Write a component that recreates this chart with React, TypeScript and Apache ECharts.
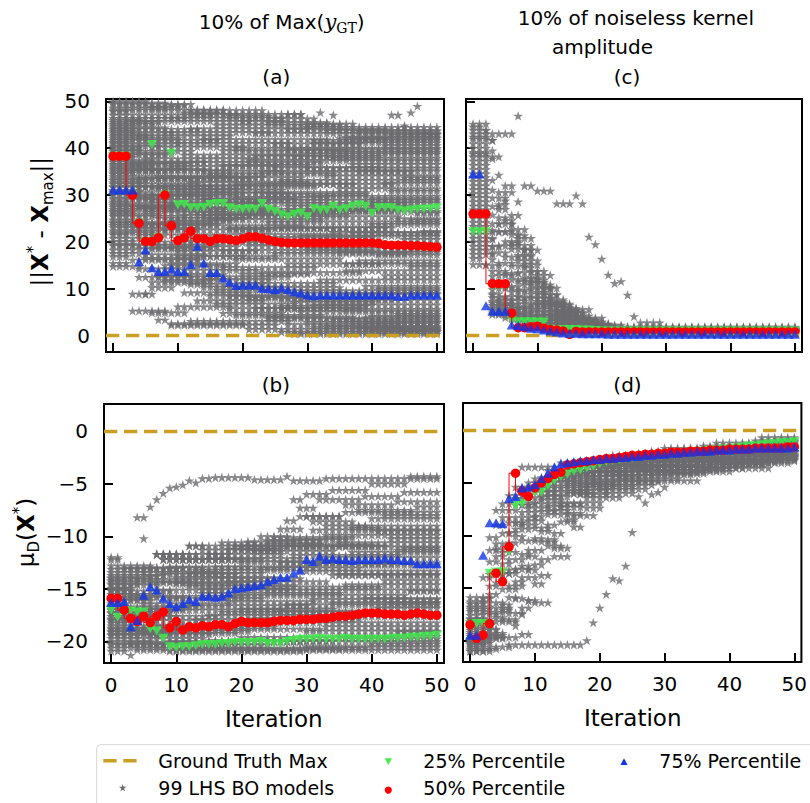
import React, { useEffect, useRef } from 'react';
import * as echarts from 'echarts';

// ---------- axes ----------
const ITERATIONS: number[] = Array.from({ length: 51 }, (_, i) => i);
const X_TICKS = [0, 10, 20, 30, 40, 50];
const Y_TICKS_DIST = [0, 10, 20, 30, 40, 50];
const Y_TICKS_MU = [-20, -15, -10, -5, 0];
const X_RANGE = [-1.1, 51.1];
const Y_RANGE_DIST = [-3.48, 50.5];
const Y_RANGE_MU = [-22.05, 2.58];
const GROUND_TRUTH_DIST = 0;
const GROUND_TRUTH_MU = 0;

// ---------- percentiles ----------
// (a) ||X* - Xmax||, 10% of Max(yGT)
const P25_A = [38.3, 38.3, 38.3, 30.0, 24.0, 20.1, 40.8, 20.9, 30.0, 38.9,
  27.9, 28.0, 27.3, 27.3, 27.4, 28.0, 28.2, 28.2, 27.3, 27.0,
  27.0, 27.1, 27.0, 28.2, 27.0, 26.5, 25.8, 25.4, 25.9, 26.2,
  25.4, 27.1, 26.8, 26.8, 27.6, 26.8, 27.1, 27.6, 27.9, 27.6,
  26.1, 27.3, 27.3, 27.3, 26.8, 26.6, 26.8, 27.0, 27.0, 27.1, 27.3];
const P50_A = [38.3, 38.3, 38.3, 30.0, 24.0, 20.1, 20.1, 20.9, 30.0, 23.5,
  20.3, 20.9, 22.3, 20.7, 20.7, 20.1, 20.7, 20.7, 20.5, 20.3,
  20.7, 21.1, 21.1, 20.8, 20.4, 20.1, 19.9, 19.8, 19.8, 19.8,
  19.8, 19.8, 19.8, 19.8, 19.8, 19.8, 19.8, 19.8, 19.8, 19.8,
  19.8, 19.7, 19.4, 19.3, 19.3, 19.3, 19.2, 19.2, 19.1, 19.0, 18.9];
const P75_A = [31.1, 31.1, 31.1, 31.1, 15.8, 18.3, 14.5, 13.7, 13.7, 14.3,
  13.7, 13.7, 15.2, 19.1, 15.5, 13.5, 13.5, 12.3, 11.4, 10.7,
  10.8, 10.8, 10.8, 10.1, 10.0, 9.8, 10.2, 9.8, 9.4, 9.1,
  8.7, 8.5, 8.7, 8.7, 8.7, 8.7, 8.7, 8.7, 8.7, 8.7,
  8.7, 8.7, 8.7, 8.7, 8.4, 8.4, 8.7, 8.7, 8.7, 8.7, 8.7];

// (b) muD(X*), 10% of Max(yGT)
const P25_B = [-17.0, -17.7, -17.1, -17.1, -17.2, -17.2, -18.8, -19.0, -19.7, -20.5,
  -20.6, -20.5, -20.5, -20.4, -20.3, -20.3, -20.3, -20.2, -20.2, -20.1,
  -20.1, -20.1, -20.1, -20.0, -20.2, -20.2, -20.2, -20.0, -19.9, -19.8,
  -19.8, -19.8, -19.7, -19.8, -19.8, -19.8, -19.7, -19.8, -19.8, -19.8,
  -19.8, -19.8, -19.8, -19.7, -19.7, -19.7, -19.6, -19.6, -19.5, -19.5, -19.4];
const P50_B = [-15.9, -15.9, -17.0, -17.8, -18.1, -17.6, -18.2, -17.6, -17.2, -18.7,
  -18.1, -18.9, -18.6, -18.7, -18.5, -18.6, -18.4, -18.4, -18.6, -18.3,
  -18.1, -18.2, -18.2, -18.2, -18.2, -18.1, -18.0, -18.0, -18.0, -17.9,
  -17.9, -17.9, -17.8, -17.8, -17.7, -17.6, -17.6, -17.5, -17.4, -17.3,
  -17.3, -17.3, -17.4, -17.4, -17.4, -17.5, -17.4, -17.3, -17.4, -17.5, -17.5];
const P75_B = [-16.3, -16.3, -16.2, -18.6, -18.0, -15.6, -14.8, -15.1, -15.9, -16.4,
  -16.7, -16.4, -16.0, -16.2, -15.7, -15.7, -15.8, -15.7, -15.4, -15.0,
  -14.9, -14.8, -14.7, -14.6, -14.3, -14.1, -13.9, -13.9, -13.5, -13.2,
  -12.2, -12.4, -11.9, -12.2, -12.1, -12.2, -12.2, -12.3, -12.2, -12.2,
  -12.2, -12.2, -12.1, -12.2, -12.2, -12.3, -12.3, -12.6, -12.6, -12.6, -12.6];

// (c) ||X* - Xmax||, 10% of noiseless kernel amplitude
const P25_C = [22.2, 22.2, 22.2, 10.6, 10.6, 10.6, 3.3, 3.0, 3.0, 3.0,
  2.9, 2.9, 1.4, 1.3, 1.3, 1.3, 1.3, 1.2, 1.2, 1.1,
  1.0, 1.0, 1.0, 1.0, 1.0, 1.0, 1.0, 1.0, 1.0, 1.0,
  1.0, 1.0, 1.0, 1.0, 1.0, 1.0, 1.0, 1.0, 1.0, 1.0,
  1.0, 1.0, 1.0, 1.0, 1.0, 1.0, 1.0, 1.0, 1.0, 1.0, 1.0];
const P50_C = [26.0, 26.0, 26.0, 11.1, 11.1, 11.1, 4.8, 1.7, 1.7, 1.9,
  2.0, 1.6, 1.3, 1.2, 1.0, 0.3, 0.9, 0.8, 0.8, 0.8,
  0.8, 0.8, 0.8, 0.8, 0.8, 0.8, 0.8, 0.8, 0.8, 0.8,
  0.8, 0.8, 0.8, 0.8, 0.8, 0.8, 0.8, 0.8, 0.8, 0.8,
  0.8, 0.8, 0.8, 0.8, 0.8, 0.8, 0.8, 0.8, 0.8, 0.8, 0.8];
const P75_C = [34.5, 34.5, 6.4, 5.2, 5.2, 5.2, 2.3, 2.2, 1.9, 1.6,
  1.5, 1.2, 1.0, 0.8, 0.6, 0.5, 0.5, 0.4, 0.4, 0.4,
  0.4, 0.3, 0.3, 0.3, 0.3, 0.3, 0.3, 0.3, 0.3, 0.3,
  0.3, 0.3, 0.3, 0.3, 0.3, 0.3, 0.3, 0.3, 0.3, 0.3,
  0.3, 0.3, 0.3, 0.3, 0.3, 0.3, 0.3, 0.3, 0.3, 0.3, 0.3];

// (d) muD(X*), 10% of noiseless kernel amplitude
const P25_D = [-18.5, -18.4, -18.4, -13.6, -13.5, -13.5, -11.5, -7.2, -7.0, -6.4,
  -5.9, -5.9, -5.3, -4.8, -4.4, -4.2, -3.9, -3.8, -3.6, -3.4,
  -3.2, -3.0, -2.9, -2.8, -2.7, -2.6, -2.5, -2.4, -2.4, -2.3,
  -2.3, -2.2, -2.2, -2.1, -2.1, -2.0, -2.0, -1.9, -1.9, -1.8,
  -1.8, -1.7, -1.6, -1.5, -1.5, -1.4, -1.3, -1.3, -1.2, -1.2, -1.1];
const P50_D = [-18.5, -19.8, -19.5, -18.4, -13.6, -14.4, -11.1, -4.1, -5.8, -6.3,
  -5.5, -5.0, -4.6, -4.2, -4.0, -3.3, -3.2, -3.1, -3.0, -2.9,
  -2.8, -2.7, -2.7, -2.6, -2.5, -2.4, -2.4, -2.3, -2.3, -2.2,
  -2.2, -2.1, -2.1, -2.1, -2.0, -2.0, -2.0, -1.9, -1.9, -1.9,
  -1.8, -1.8, -1.8, -1.8, -1.7, -1.7, -1.7, -1.7, -1.7, -1.6, -1.6];
const P75_D = [-19.5, -19.5, -11.9, -8.8, -8.8, -8.9, -6.5, -6.3, -5.5, -5.4,
  -5.2, -4.6, -4.1, -3.5, -3.2, -3.1, -3.0, -2.9, -2.9, -2.8,
  -2.8, -2.7, -2.7, -2.6, -2.6, -2.5, -2.5, -2.4, -2.4, -2.3,
  -2.3, -2.2, -2.2, -2.1, -2.1, -2.0, -2.0, -2.0, -1.9, -1.9,
  -1.9, -1.8, -1.8, -1.8, -1.7, -1.7, -1.7, -1.7, -1.7, -1.7, -1.6];

// ---------- individual BO models (run-length: [first iteration, value]) ----------
type Track = number[][];
const MODELS_A: Track[] = [
  [[0, 15.5], [3, 5.3], [9, 2.3], [26, 0.8]],
  [[0, 16.9], [3, 8.9], [7, 3.4], [9, 2.6], [21, 1.4]],
  [[0, 14.8], [5, 8.9], [6, 4.9], [12, 3.1], [28, 0.4]],
  [[0, 17.6], [6, 10.3], [10, 6.2], [19, 4.4], [33, 2.0]],
  [[0, 18.3], [4, 12.5], [13, 7.5], [24, 3.7], [40, 1.2]],
  [[0, 19.2], [8, 11.8], [16, 6.8], [29, 5.2]],
  [[0, 20.1], [4, 14.3], [11, 9.2], [22, 5.9], [37, 3.0]],
  [[0, 20.8], [7, 13.1], [18, 8.4], [31, 6.6]],
  [[0, 21.6], [3, 16.2], [14, 10.4], [26, 7.9], [44, 4.6]],
  [[0, 22.4], [9, 15.4], [20, 11.2], [35, 8.8]],
  [[0, 23.1], [5, 17.3], [15, 12.6], [28, 9.6]],
  [[0, 24.0], [10, 18.1], [23, 13.5], [39, 10.6]],
  [[0, 24.7], [6, 19.4], [17, 14.6], [32, 11.9]],
  [[0, 25.5], [12, 20.3], [27, 15.3], [42, 12.8]],
  [[0, 26.3], [4, 21.5], [19, 16.4], [36, 13.9]],
  [[0, 27.0], [8, 22.6], [25, 17.6], [46, 14.8]],
  [[0, 27.8], [11, 23.5], [30, 18.7]],
  [[0, 28.6], [3, 24.2], [16, 19.9], [38, 16.0]],
  [[0, 29.4], [7, 25.1], [21, 21.0], [41, 17.3]],
  [[0, 30.1], [13, 26.3], [34, 22.1]],
  [[0, 30.9], [5, 27.2], [18, 23.0], [43, 18.5]],
  [[0, 31.7], [9, 28.1], [24, 24.3]],
  [[0, 32.4], [14, 29.2], [29, 25.4], [45, 20.6]],
  [[0, 33.2], [6, 30.0], [20, 26.5]],
  [[0, 34.0], [10, 31.1], [27, 27.7], [48, 22.3]],
  [[0, 34.8], [4, 31.8], [16, 28.9]],
  [[0, 35.6], [12, 32.7], [31, 29.8]],
  [[0, 36.3], [7, 33.5], [22, 30.6], [40, 23.8]],
  [[0, 37.1], [15, 34.6], [35, 31.4]],
  [[0, 37.9], [3, 35.2], [19, 32.3], [44, 25.0]],
  [[0, 38.6], [9, 36.1], [26, 33.2]],
  [[0, 39.4], [13, 37.0], [33, 34.1]],
  [[0, 40.2], [5, 37.8], [23, 35.0], [47, 26.2]],
  [[0, 41.0], [11, 38.6], [30, 35.8]],
  [[0, 41.7], [17, 39.5], [37, 36.6]],
  [[0, 42.5], [6, 40.3], [21, 37.4]],
  [[0, 43.3], [10, 41.1], [28, 38.3], [42, 32.6]],
  [[0, 44.1], [14, 41.9], [34, 39.2]],
  [[0, 44.8], [4, 42.7], [19, 40.0]],
  [[0, 45.6], [8, 43.4], [25, 40.9], [39, 28.4]],
  [[0, 46.4], [12, 44.2], [31, 41.7]],
  [[0, 47.1], [16, 45.0], [36, 42.4]],
  [[0, 47.9], [3, 45.8], [22, 43.2]],
  [[0, 48.6], [9, 46.5], [27, 44.0], [43, 42.9]],
  [[0, 49.4], [13, 47.3], [30, 45.2], [38, 43.6]],
  [[0, 50.0], [6, 48.8], [11, 47.6], [17, 47.2], [20, 45.8], [27, 47.2], [30, 44.5]],
  [[0, 48.2], [18, 46.9], [25, 46.3], [32, 47.6], [33, 43.8]],
  [[0, 49.7], [9, 49.2], [12, 48.1], [24, 45.5], [34, 47.1], [35, 42.1], [43, 47.1], [45, 44.8], [46, 47.6], [47, 49.0], [48, 43.0]],
  [[0, 46.0], [5, 35.5], [15, 24.8], [33, 7.6]],
  [[0, 45.2], [7, 34.0], [19, 21.6], [36, 15.4]],
  [[0, 44.4], [9, 30.6], [21, 19.2], [39, 3.9]],
  [[0, 43.7], [4, 33.6], [14, 25.6], [29, 21.3]],
  [[0, 42.9], [6, 29.0], [17, 18.2], [41, 10.1]],
  [[0, 42.1], [11, 27.3], [26, 23.1], [44, 19.6]],
  [[0, 41.3], [3, 36.8], [13, 31.9], [32, 27.1]],
  [[0, 40.5], [8, 32.0], [22, 28.3], [46, 24.7]],
  [[0, 39.7], [5, 26.4], [18, 22.9], [35, 17.9]],
  [[0, 38.9], [10, 33.9], [24, 30.2], [40, 29.3]],
  [[0, 38.1], [4, 29.7], [16, 25.9], [37, 21.9]],
  [[0, 37.4], [7, 31.3], [20, 27.0], [43, 30.9]],
  [[0, 36.6], [12, 30.4], [28, 26.8], [45, 33.7]],
  [[0, 35.9], [6, 28.4], [23, 32.4], [38, 35.2]],
  [[0, 35.2], [9, 24.5], [19, 29.5], [34, 37.9]],
  [[0, 34.5], [3, 27.6], [15, 33.7], [30, 38.8]],
  [[0, 33.5], [8, 26.9], [25, 35.9], [42, 40.6]],
  [[0, 32.7], [5, 23.8], [17, 36.4], [31, 41.2]],
  [[0, 31.9], [11, 25.7], [22, 38.3], [37, 42.1]],
  [[0, 31.0], [4, 22.9], [14, 35.1], [27, 39.7]],
  [[0, 30.6], [7, 20.0], [13, 16.9], [26, 5.9], [39, 2.6]],
  [[0, 29.1], [9, 19.0], [20, 13.2], [31, 1.8]],
  [[0, 28.2], [6, 18.8], [16, 9.8], [28, 7.2], [41, 0.9]],
  [[0, 27.5], [10, 17.0], [21, 8.1], [34, 3.5]],
  [[0, 26.6], [4, 18.6], [12, 11.0], [24, 4.0], [38, 1.6]],
  [[0, 25.9], [8, 15.0], [18, 5.8], [30, 2.9]],
  [[0, 24.3], [5, 16.5], [14, 12.0], [25, 9.1]],
  [[0, 23.6], [11, 14.0], [23, 10.3], [36, 5.6]],
  [[0, 22.0], [7, 12.6], [17, 4.8], [27, 2.4], [45, 1.0]],
  [[0, 19.5], [6, 11.4], [15, 8.6], [26, 6.3], [40, 4.2]],
];

const MODELS_B: Track[] = [
  [[0, -20.9], [3, -21.3], [4, -20.8]],
  [[0, -20.6], [9, -20.9], [30, -20.5]],
  [[0, -20.3], [12, -20.6], [40, -20.2]],
  [[0, -20.0], [7, -20.3], [25, -20.0]],
  [[0, -19.7], [15, -19.9], [35, -19.5]],
  [[0, -19.4], [5, -19.2], [20, -19.6], [44, -19.1]],
  [[0, -19.1], [10, -18.8], [33, -18.6]],
  [[0, -18.8], [6, -18.5], [22, -18.2]],
  [[0, -18.5], [13, -17.9], [38, -17.6]],
  [[0, -18.2], [4, -17.6], [17, -17.2], [41, -16.8]],
  [[0, -17.9], [8, -17.0], [27, -16.5]],
  [[0, -17.6], [11, -16.6], [31, -16.0]],
  [[0, -17.3], [5, -16.4], [19, -15.6], [46, -15.2]],
  [[0, -17.0], [9, -15.9], [24, -15.1]],
  [[0, -16.7], [14, -15.4], [36, -14.6]],
  [[0, -16.4], [3, -15.7], [21, -14.8], [42, -14.2]],
  [[0, -16.1], [7, -15.1], [18, -14.3], [34, -13.7]],
  [[0, -15.8], [12, -14.7], [29, -13.3]],
  [[0, -15.5], [6, -14.4], [23, -13.0], [39, -12.7]],
  [[0, -15.2], [10, -13.9], [26, -12.5]],
  [[0, -14.9], [4, -14.1], [16, -12.9], [32, -12.0]],
  [[0, -14.6], [8, -13.6], [20, -12.4], [37, -11.5]],
  [[0, -14.3], [13, -13.2], [28, -11.8], [45, -11.1]],
  [[0, -14.0], [5, -13.4], [17, -12.1], [30, -11.0]],
  [[0, -13.7], [9, -12.9], [22, -11.4], [35, -10.6]],
  [[0, -13.4], [6, -13.0], [15, -11.7], [27, -10.9], [43, -10.2]],
  [[0, -13.1], [11, -12.2], [24, -10.7], [33, -9.9]],
  [[0, -12.8], [7, -11.7], [19, -10.9], [31, -9.4]],
  [[0, -12.2], [2, -13.0], [12, -10.9], [25, -10.1], [38, -9.0]],
  [[0, -12.0], [2, -15.5], [8, -12.2], [21, -10.5], [29, -8.1], [36, -7.7]],
  [[0, -15.1], [4, -8.2], [6, -7.2], [7, -6.5], [8, -5.9], [9, -5.4], [10, -5.3], [11, -5.1], [12, -4.7], [13, -4.9], [14, -4.5], [16, -4.4], [22, -4.6], [27, -4.3], [28, -4.7], [33, -4.5]],
  [[0, -14.5], [5, -10.2], [6, -13.0], [7, -11.7], [12, -10.9], [15, -11.7], [17, -10.6], [23, -10.0], [28, -6.5], [30, -6.0], [34, -5.6], [40, -5.0], [46, -4.3]],
  [[0, -16.0], [6, -13.8], [8, -12.2], [18, -11.2], [27, -8.5], [29, -7.3], [32, -6.5], [39, -6.2], [45, -5.8]],
  [[0, -13.9], [7, -11.7], [14, -11.3], [26, -9.3], [30, -8.1], [36, -7.0], [44, -6.7]],
  [[0, -17.2], [10, -14.5], [20, -11.0], [31, -8.6], [38, -7.5], [47, -7.2]],
  [[0, -16.9], [12, -13.5], [24, -10.4], [33, -9.0], [40, -8.3]],
  [[0, -18.7], [14, -15.0], [28, -10.3], [37, -9.2], [42, -8.0]],
  [[0, -19.3], [16, -14.0], [30, -10.8], [41, -9.5]],
  [[0, -20.2], [18, -16.2], [32, -12.6], [44, -11.3]],
  [[0, -18.0], [3, -20.1], [20, -16.9], [35, -13.6]],
  [[0, -19.0], [22, -17.8], [39, -15.9]],
  [[0, -15.0], [3, -17.5], [8, -18.6], [26, -17.1], [43, -16.3]],
  [[0, -16.6], [2, -17.8], [6, -19.4], [9, -20.0], [30, -19.0]],
  [[0, -17.8], [4, -19.0], [10, -20.7], [36, -19.7]],
  [[0, -14.2], [3, -16.9], [7, -18.0], [15, -17.5], [34, -16.3]],
];

const MODELS_C: Track[] = [
  [[0, 45.2], [3, 41.7], [4, 30.6], [7, 17.2], [10, 8.1], [13, 5.0], [17, 2.1], [22, 0.9]],
  [[0, 44.6], [2, 43.8], [3, 37.8], [4, 23.9], [7, 20.8], [10, 15.1], [11, 6.2], [14, 3.1], [19, 1.2]],
  [[0, 43.1], [7, 46.9], [8, 18.3], [10, 11.5], [12, 4.4], [16, 1.6], [21, 0.8]],
  [[0, 42.4], [3, 41.7], [4, 34.3], [5, 28.8], [6, 25.7], [8, 18.3], [11, 10.9], [13, 6.8], [16, 3.5], [20, 1.3]],
  [[0, 41.0], [3, 29.4], [6, 22.7], [9, 13.8], [12, 10.2], [14, 5.9], [17, 3.8], [21, 1.4]],
  [[0, 40.0], [3, 27.6], [5, 24.6], [7, 19.3], [10, 12.9], [13, 7.3], [15, 5.6], [19, 2.3], [24, 0.9]],
  [[0, 39.1], [3, 25.8], [4, 22.3], [7, 16.0], [9, 12.2], [11, 8.7], [14, 4.8], [18, 2.6], [22, 1.1]],
  [[0, 38.2], [5, 32.0], [7, 28.6], [8, 32.0], [10, 30.9], [13, 28.2], [16, 29.9], [17, 28.2], [18, 21.1], [19, 19.5], [20, 16.4], [21, 13.0], [22, 11.2], [23, 11.6], [24, 8.7], [25, 4.1], [26, 2.8], [30, 1.6], [31, 1.0]],
  [[0, 37.3], [3, 23.9], [5, 20.1], [8, 14.6], [10, 10.4], [13, 6.1], [16, 3.2], [20, 1.5]],
  [[0, 36.4], [3, 22.1], [6, 18.5], [9, 11.3], [12, 7.7], [15, 4.3], [19, 1.8], [25, 0.7]],
  [[0, 35.5], [3, 20.6], [4, 19.2], [7, 13.5], [10, 9.3], [12, 6.5], [16, 2.9], [21, 1.0]],
  [[0, 34.6], [3, 19.0], [5, 16.8], [8, 12.4], [11, 7.1], [14, 4.0], [18, 1.9]],
  [[0, 33.8], [3, 17.7], [6, 14.9], [9, 10.1], [11, 8.0], [13, 5.4], [17, 2.4], [22, 0.8]],
  [[0, 32.9], [3, 16.3], [4, 15.5], [7, 11.6], [10, 6.8], [14, 3.6], [19, 1.4]],
  [[0, 32.0], [3, 15.0], [5, 13.3], [8, 10.9], [10, 7.4], [13, 4.6], [16, 2.2], [20, 1.1]],
  [[0, 31.2], [3, 13.8], [6, 12.0], [9, 8.9], [12, 5.3], [15, 3.0], [21, 1.2]],
  [[0, 30.3], [3, 12.7], [4, 12.9], [7, 9.8], [10, 5.8], [13, 3.9], [18, 1.6]],
  [[0, 29.5], [3, 11.6], [5, 10.5], [8, 8.0], [11, 5.0], [14, 2.7], [20, 0.9]],
  [[0, 28.6], [3, 10.8], [6, 9.4], [9, 6.6], [12, 4.1], [16, 2.0], [22, 1.3]],
  [[0, 27.7], [3, 9.9], [4, 10.2], [7, 8.3], [10, 4.5], [13, 3.2], [17, 1.7]],
  [[0, 26.9], [3, 9.0], [5, 8.4], [8, 6.9], [11, 3.7], [15, 2.4], [19, 1.0]],
  [[0, 26.0], [3, 8.2], [6, 7.5], [9, 5.2], [12, 3.4], [16, 1.5]],
  [[0, 25.1], [3, 8.7], [4, 7.7], [7, 6.2], [10, 3.8], [14, 2.1], [18, 1.2]],
  [[0, 24.2], [3, 7.4], [5, 6.8], [8, 5.6], [11, 3.1], [15, 1.8], [21, 0.7]],
  [[0, 23.4], [3, 7.0], [6, 5.9], [9, 4.3], [12, 2.6], [17, 1.3]],
  [[0, 22.5], [4, 6.3], [7, 4.9], [10, 3.3], [13, 2.2], [18, 0.9]],
  [[0, 21.7], [3, 6.0], [5, 5.5], [8, 4.0], [11, 2.6], [15, 1.4]],
  [[0, 20.8], [4, 5.7], [6, 4.6], [9, 3.5], [12, 1.9], [16, 1.0]],
  [[0, 20.0], [3, 6.5], [7, 3.6], [10, 2.4], [14, 1.5], [20, 0.6]],
  [[0, 19.1], [4, 5.2], [6, 4.1], [8, 3.1], [11, 1.8], [15, 0.9]],
  [[0, 18.3], [3, 5.4], [5, 4.4], [9, 2.7], [13, 1.2]],
  [[0, 17.4], [4, 4.8], [7, 3.0], [10, 2.0], [14, 1.1]],
  [[0, 16.5], [2, 15.1], [3, 4.9], [6, 3.6], [9, 2.2], [12, 1.4], [17, 0.8]],
  [[0, 15.2], [3, 4.5], [5, 3.9], [8, 2.5], [12, 1.5], [16, 0.7]],
  [[0, 43.9], [3, 39.5], [4, 27.0], [6, 21.6], [8, 16.9], [10, 13.7], [11, 9.9], [13, 6.4], [15, 4.9], [17, 3.4], [20, 2.0], [23, 1.2]],
  [[0, 42.0], [3, 33.2], [4, 25.2], [6, 19.8], [8, 15.3], [10, 11.9], [12, 8.8], [14, 5.4], [17, 2.9], [20, 1.7], [24, 1.0]],
  [[0, 38.8], [3, 31.1], [4, 28.0], [6, 23.8], [7, 21.4], [9, 16.0], [11, 10.2], [13, 7.0], [15, 5.1], [18, 3.2], [20, 2.3], [22, 1.4]],
];

const MODELS_D: Track[] = [
  [[0, -15.9], [4, -7.6], [8, -3.5], [14, -3.1], [22, -2.4], [30, -1.7], [38, -1.2], [45, -0.7]],
  [[0, -16.3], [3, -10.2], [5, -7.0], [7, -5.4], [10, -4.6], [15, -3.3], [21, -2.6], [28, -2.0], [36, -1.5], [44, -1.0]],
  [[0, -16.8], [4, -9.0], [6, -6.2], [9, -5.0], [12, -3.8], [18, -2.9], [26, -2.2], [33, -1.8], [42, -1.3], [48, -0.9]],
  [[0, -17.2], [3, -12.5], [5, -8.3], [8, -5.6], [11, -4.5], [16, -3.6], [23, -2.7], [31, -2.1], [40, -1.6], [47, -1.2]],
  [[0, -17.6], [2, -14.0], [4, -10.8], [7, -7.1], [10, -5.3], [13, -4.2], [19, -3.2], [27, -2.5], [35, -1.9], [46, -1.5]],
  [[0, -18.0], [4, -12.0], [6, -8.8], [9, -6.4], [12, -4.9], [17, -3.9], [24, -3.0], [32, -2.3], [41, -1.8]],
  [[0, -18.4], [3, -14.8], [5, -11.6], [8, -7.8], [11, -5.9], [14, -4.6], [20, -3.5], [29, -2.7], [37, -2.1], [49, -1.4]],
  [[0, -18.8], [4, -13.6], [7, -9.4], [10, -7.0], [13, -5.3], [18, -4.1], [25, -3.3], [34, -2.6], [43, -2.0]],
  [[0, -19.2], [3, -16.4], [6, -12.3], [9, -8.6], [12, -6.2], [15, -5.1], [21, -3.9], [30, -2.9], [39, -2.3], [47, -1.8]],
  [[0, -19.6], [5, -15.1], [8, -10.5], [11, -7.7], [14, -5.8], [19, -4.4], [27, -3.4], [36, -2.7], [45, -2.2]],
  [[0, -20.0], [4, -16.9], [7, -13.2], [10, -9.3], [13, -6.9], [17, -5.0], [23, -4.0], [32, -3.1], [42, -2.5]],
  [[0, -20.4], [3, -18.2], [6, -14.8], [9, -11.4], [12, -8.0], [16, -5.7], [22, -4.3], [29, -3.5], [38, -2.8], [48, -2.3]],
  [[0, -20.8], [5, -18.0], [8, -14.0], [11, -10.6], [14, -7.3], [18, -5.4], [26, -3.8], [35, -3.0], [44, -2.6]],
  [[0, -19.8], [6, -20.4], [18, -20.0], [19, -18.3], [20, -16.9], [21, -15.6], [22, -14.1], [23, -14.3], [24, -12.9], [25, -9.7], [26, -6.3], [27, -6.9], [28, -6.1], [29, -5.9], [30, -5.4], [31, -4.2], [35, -4.0], [36, -3.7], [40, -3.2], [46, -2.8]],
  [[0, -21.0], [3, -19.5], [6, -17.4], [9, -16.2], [10, -16.4], [13, -11.2], [16, -8.1], [20, -5.6], [28, -4.1], [37, -3.3], [46, -2.7]],
  [[0, -20.2], [4, -19.7], [8, -19.4], [10, -14.6], [12, -11.0], [15, -7.9], [18, -6.4], [24, -4.6], [33, -3.6], [43, -2.9]],
  [[0, -19.9], [2, -17.5], [5, -13.3], [8, -9.0], [11, -6.6], [15, -4.8], [20, -3.7], [28, -2.9], [40, -2.0], [48, -1.6]],
  [[0, -18.6], [3, -15.6], [5, -12.7], [7, -10.1], [9, -7.4], [13, -5.5], [19, -4.0], [26, -3.1], [35, -2.4], [44, -1.7]],
  [[0, -17.9], [3, -13.7], [6, -10.7], [8, -8.3], [11, -6.3], [16, -4.4], [22, -3.3], [31, -2.6], [41, -2.1]],
  [[0, -17.0], [4, -11.3], [6, -9.7], [8, -7.1], [10, -5.8], [14, -4.1], [20, -3.1], [30, -2.3], [42, -1.7], [49, -1.1]],
  [[0, -16.5], [3, -11.4], [5, -9.8], [7, -6.5], [9, -5.5], [13, -4.4], [17, -3.4], [27, -2.6], [37, -1.9], [46, -1.3]],
  [[0, -19.4], [4, -17.8], [6, -15.9], [8, -12.9], [10, -10.3], [12, -9.0], [14, -7.0], [18, -5.2], [23, -4.3], [31, -3.3], [42, -2.4]],
  [[0, -20.6], [2, -19.0], [5, -16.6], [7, -16.0], [9, -13.3], [11, -12.3], [13, -9.8], [15, -8.5], [17, -6.9], [21, -5.2], [29, -3.8], [39, -3.0], [48, -2.4]],
  [[0, -18.2], [3, -17.3], [6, -13.6], [8, -11.8], [10, -8.2], [12, -7.2], [15, -6.0], [19, -4.7], [25, -3.6], [34, -2.8], [45, -2.0]],
  [[0, -20.3], [3, -20.6], [7, -18.6], [8, -17.5], [9, -16.2], [11, -13.8], [13, -12.0], [16, -9.2], [18, -7.4], [21, -6.0], [26, -4.8], [36, -3.6], [47, -2.8]],
  [[0, -19.0], [2, -16.0], [4, -14.5], [6, -11.0], [7, -8.8], [9, -6.9], [11, -5.0], [14, -3.9], [19, -3.0], [26, -2.4], [36, -1.7], [45, -1.1]],
  [[0, -21.0], [4, -19.3], [6, -18.2], [8, -16.9], [10, -12.8], [12, -10.4], [14, -8.7], [17, -6.1], [22, -4.9], [30, -3.9], [41, -3.1], [50, -2.6]],
  [[0, -20.1], [3, -18.9], [5, -17.1], [7, -14.4], [9, -12.0], [11, -9.6], [13, -7.6], [16, -6.0], [20, -4.9], [27, -3.9], [37, -3.1], [47, -2.5]],
];

// ---------- styling ----------
const FONT = 'DejaVu Sans';
const GRAY = '#6b6b6f';
const GREEN = '#3fee4a';
const RED = '#ff0000';
const BLUE = '#1034e8';
const GOLD = '#c9a024';
const STAR_PATH = 'path://M0,-10L2.245,-3.09L9.51,-3.09L3.633,1.18L5.88,8.09L0,3.82L-5.88,8.09L-3.633,1.18L-9.51,-3.09L-2.245,-3.09Z';

const expandTrack = (track: Track): number[] =>
  ITERATIONS.map((i) => {
    let v = track[0][1];
    for (const [start, val] of track) if (start <= i) v = val;
    return v;
  });

const minusFmt = (v: number) => String(v).replace('-', '\u2212');

function starPoints(cx: number, cy: number, R: number): number[][] {
  const pts: number[][] = [];
  for (let k = 0; k < 10; k++) {
    const ang = -Math.PI / 2 + (k * Math.PI) / 5;
    const rad = k % 2 === 0 ? R : R * 0.382;
    pts.push([cx + rad * Math.cos(ang), cy + rad * Math.sin(ang)]);
  }
  return pts;
}

function panelSeries(idx: number, models: Track[], p25: number[], p50: number[], p75: number[], gt: number) {
  const starData: number[][] = [];
  models.forEach((t) => expandTrack(t).forEach((v, i) => starData.push([ITERATIONS[i], v])));
  return [
    {
      type: 'scatter', xAxisIndex: idx, yAxisIndex: idx, data: starData, silent: true,
      symbol: STAR_PATH, symbolSize: [10, 9.5], itemStyle: { color: GRAY }, z: 1,
    },
    {
      type: 'line', xAxisIndex: idx, yAxisIndex: idx, data: [], silent: true, z: 2,
      markLine: {
        silent: true, symbol: ['none', 'none'], label: { show: false },
        lineStyle: { color: GOLD, width: 3.4, type: [13.3, 6.7] },
        data: [{ yAxis: gt }],
      },
    },
    {
      type: 'scatter', xAxisIndex: idx, yAxisIndex: idx, silent: true, z: 3,
      data: p25.map((v, i) => [ITERATIONS[i], v]),
      symbol: 'triangle', symbolRotate: 180, symbolSize: [10, 9], itemStyle: { color: GREEN },
    },
    {
      type: 'line', xAxisIndex: idx, yAxisIndex: idx, silent: true, z: 4, step: 'start',
      data: p50.map((v, i) => [ITERATIONS[i], v]),
      symbol: 'circle', symbolSize: 9.5, showAllSymbol: true,
      lineStyle: { color: RED, width: 1 }, itemStyle: { color: RED },
    },
    {
      type: 'scatter', xAxisIndex: idx, yAxisIndex: idx, silent: true, z: 5,
      data: p75.map((v, i) => [ITERATIONS[i], v]),
      symbol: 'triangle', symbolSize: [10, 9], itemStyle: { color: BLUE },
    },
  ];
}

const GRIDS = [
  { left: 106, top: 99, width: 338, height: 253 }, // (a)
  { left: 466, top: 99, width: 336, height: 253 }, // (c)
  { left: 104, top: 404, width: 340, height: 259 }, // (b)
  { left: 463, top: 403, width: 340, height: 259 }, // (d)
];

function buildOption() {
  const tick = { show: true, inside: true, length: 9, lineStyle: { color: '#000', width: 2 } };
  const xAxis = GRIDS.map((_, k) => ({
    gridIndex: k, type: 'value', position: 'bottom', min: X_RANGE[0], max: X_RANGE[1],
    axisLine: { show: false, onZero: false }, splitLine: { show: false },
    axisTick: { ...tick, customValues: X_TICKS },
    axisLabel: { show: k >= 2, customValues: X_TICKS, fontSize: 20, color: '#000', fontFamily: FONT, margin: 12 },
  }));
  const yAxis = GRIDS.map((_, k) => {
    const top = k < 2;
    const ticks = top ? Y_TICKS_DIST : Y_TICKS_MU;
    const range = top ? Y_RANGE_DIST : Y_RANGE_MU;
    return {
      gridIndex: k, type: 'value', position: 'left', min: range[0], max: range[1],
      axisLine: { show: false, onZero: false }, splitLine: { show: false },
      axisTick: { ...tick, customValues: ticks },
      axisLabel: {
        show: k === 0 || k === 2, customValues: ticks, fontSize: 20, color: '#000',
        fontFamily: FONT, margin: 16, formatter: (v: number) => minusFmt(v),
      },
    };
  });

  const series = [
    ...panelSeries(0, MODELS_A, P25_A, P50_A, P75_A, GROUND_TRUTH_DIST),
    ...panelSeries(1, MODELS_C, P25_C, P50_C, P75_C, GROUND_TRUTH_DIST),
    ...panelSeries(2, MODELS_B, P25_B, P50_B, P75_B, GROUND_TRUTH_MU),
    ...panelSeries(3, MODELS_D, P25_D, P50_D, P75_D, GROUND_TRUTH_MU),
  ];

  const txt = (x: number, y: number, text: string, size: number, extra: any = {}) => ({
    type: 'text', x, y, silent: true, z: 100,
    style: { text, fill: '#000', fontSize: size, fontFamily: FONT, align: 'center', verticalAlign: 'middle', ...extra },
  });

  const scriptRich = {
    n: { fontSize: 23, fontFamily: FONT, fill: '#000', lineHeight: 30 },
    b: { fontSize: 23, fontFamily: FONT, fontWeight: 'bold', fill: '#000', lineHeight: 30 },
    sup: { fontSize: 15, fontFamily: FONT, fill: '#000', verticalAlign: 'top', lineHeight: 16 },
    sub: { fontSize: 15, fontFamily: FONT, fill: '#000', verticalAlign: 'bottom', lineHeight: 16 },
  };

  const legendX1 = 123, legendX2 = 388.3, legendX3 = 624;
  const row1 = 760.7, row2 = 787.5;

  const graphic = [
    {
      type: 'text', x: 281.7, y: 21.7, silent: true, z: 100,
      style: {
        text: '{n|10% of Max(}{m|y}{s|GT}{n|)}', align: 'center', verticalAlign: 'middle', fill: '#000',
        rich: {
          n: { fontSize: 20, fontFamily: FONT, fill: '#000', lineHeight: 26 },
          m: { fontSize: 21, fontFamily: 'DejaVu Serif', fontStyle: 'italic', fill: '#000', lineHeight: 26 },
          s: { fontSize: 14, fontFamily: 'DejaVu Serif', fill: '#000', verticalAlign: 'bottom', lineHeight: 16 },
        },
      },
    },
    txt(635.8, 18.3, '10% of noiseless kernel', 20),
    txt(602.5, 46.7, 'amplitude', 20),
    txt(276.3, 77.3, '(a)', 20),
    txt(627, 76.7, '(c)', 20),
    txt(275.8, 385, '(b)', 20),
    txt(627.5, 385, '(d)', 20),
    txt(273.8, 719.3, 'Iteration', 23),
    txt(632.7, 718.3, 'Iteration', 23),
    {
      type: 'text', x: 40, y: 221.7, rotation: Math.PI / 2, silent: true, z: 100,
      style: {
        text: '{n|||}{b|X}{sup|*}{n| - }{b|X}{sub|max}{n|||}',
        align: 'center', verticalAlign: 'middle', fill: '#000', rich: scriptRich,
      },
    },
    {
      type: 'text', x: 26, y: 532.5, rotation: Math.PI / 2, silent: true, z: 100,
      style: {
        text: '{n|\u03bc}{sub|D}{n|(}{b|X}{sup|*}{n|)}',
        align: 'center', verticalAlign: 'middle', fill: '#000', rich: scriptRich,
      },
    },
    {
      type: 'rect', silent: true, z: 90,
      shape: { x: 96.7, y: 744.7, width: 730, height: 80, r: 4 },
      style: { fill: '#fff', stroke: '#d6d6d6', lineWidth: 1 },
    },
    {
      type: 'line', silent: true, z: 100,
      shape: { x1: 103.3, y1: row1, x2: 143.3, y2: row1 },
      style: { stroke: GOLD, lineWidth: 3.4, lineDash: [13.3, 6.7] },
    },
    {
      type: 'polygon', silent: true, z: 100,
      shape: { points: starPoints(legendX1 - 0.3, row2 + 0.6, 4) },
      style: { fill: GRAY },
    },
    {
      type: 'polygon', silent: true, z: 100,
      shape: { points: [[legendX2 - 3.6, row1 - 2.4], [legendX2 + 3.6, row1 - 2.4], [legendX2, row1 + 4.2]] },
      style: { fill: GREEN },
    },
    {
      type: 'circle', silent: true, z: 100,
      shape: { cx: legendX2, cy: row2 + 2.6, r: 3.6 },
      style: { fill: RED },
    },
    {
      type: 'polygon', silent: true, z: 100,
      shape: { points: [[legendX3 - 3.6, row1 + 4.2], [legendX3 + 3.6, row1 + 4.2], [legendX3, row1 - 2.4]] },
      style: { fill: BLUE },
    },
    txt(158.3, row1, 'Ground Truth Max', 19, { align: 'left' }),
    txt(158.3, row2, '99 LHS BO models', 19, { align: 'left' }),
    txt(423.3, row1, '25% Percentile', 19, { align: 'left' }),
    txt(423.3, row2, '50% Percentile', 19, { align: 'left' }),
    txt(659.3, row1, '75% Percentile', 19, { align: 'left' }),
  ];

  return {
    animation: false,
    backgroundColor: '#fff',
    textStyle: { fontFamily: FONT },
    grid: GRIDS.map((g) => ({ ...g, show: true, borderColor: '#000', borderWidth: 2, backgroundColor: 'transparent', containLabel: false })),
    xAxis,
    yAxis,
    series,
    graphic,
  };
}

export default function App() {
  const ref = useRef<HTMLDivElement>(null);
  useEffect(() => {
    if (!ref.current) return;
    const chart = echarts.init(ref.current, undefined, { renderer: 'svg' });
    chart.setOption(buildOption() as any);
    return () => chart.dispose();
  }, []);
  return (
    <div
      ref={ref}
      style={{ position: 'fixed', left: 0, top: 0, width: 810, height: 803, background: '#fff' }}
    />
  );
}
